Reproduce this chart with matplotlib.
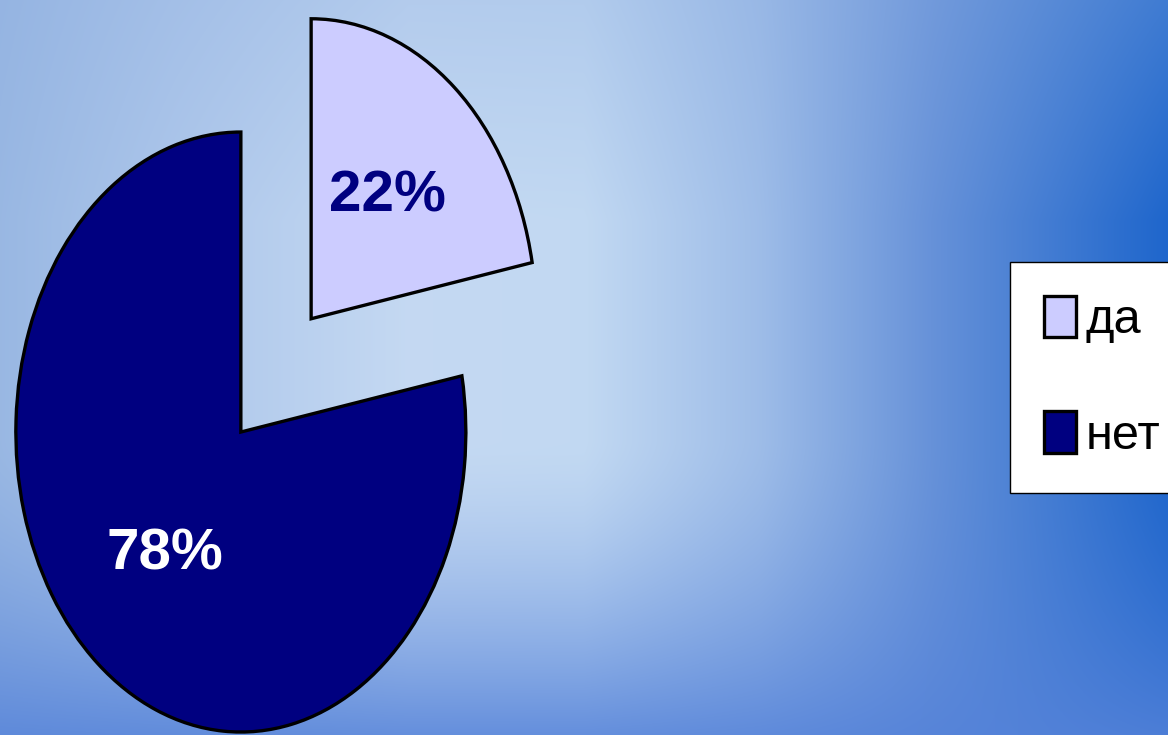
import matplotlib
matplotlib.use('Agg')
import matplotlib.pyplot as plt
import numpy as np

# data
labels = ['да', 'нет']
shares = [22, 78]
colors = ['#ccccff', '#000080']
explode = [0.245, 0.245]

W, H = 1168, 735
font = 'Liberation Sans'

fig = plt.figure(figsize=(W / 100, H / 100), dpi=100)

# blue gradient background
u = np.linspace(0, 1, W)[None, :].repeat(H, axis=0)
v = np.linspace(0, 1, H)[:, None].repeat(W, axis=1)
stops_u = [0.0, 0.15, 0.35, 0.50, 0.65, 0.80, 1.0]
stops_c = np.array([
    [0.60, 0.72, 0.89],
    [0.68, 0.78, 0.92],
    [0.77, 0.85, 0.95],
    [0.76, 0.85, 0.95],
    [0.62, 0.74, 0.91],
    [0.40, 0.57, 0.85],
    [0.12, 0.40, 0.80],
])
img = np.stack([np.interp(u, stops_u, stops_c[:, k]) for k in range(3)], axis=-1)
w_bot = (np.clip((v - 0.6) / 0.4, 0, 1) ** 1.5 * 0.85)[..., None]
img = img * (1 - w_bot) + np.array([0.33, 0.51, 0.85]) * w_bot
w_top = (np.clip(1 - v / 0.3, 0, 1) * 0.3)[..., None]
img = img * (1 - w_top) + np.array([0.55, 0.68, 0.88]) * w_top

bg = fig.add_axes([0, 0, 1, 1])
bg.imshow(img, aspect='auto', extent=(0, 1, 0, 1), interpolation='bilinear')
bg.axis('off')

ax = fig.add_axes([0, 0, 1, 1])
ax.patch.set_alpha(0)
wedges, texts, autotexts = ax.pie(
    shares, explode=explode, colors=colors, startangle=90, counterclock=False,
    autopct='%1.0f%%', pctdistance=0.53,
    wedgeprops=dict(edgecolor='black', linewidth=2.4))
ax.set_aspect('auto')
ax.set_xlim(-276 / 225, (W - 276) / 225)
ax.set_ylim((375.4 - H) / 300, 375.4 / 300)
ax.axis('off')

for t, c in zip(autotexts, ['#000080', 'white']):
    t.set_color(c)
    t.set_fontsize(42)
    t.set_fontweight('bold')
    t.set_family(font)

leg = ax.legend(wedges, labels, loc='upper left',
                bbox_to_anchor=(1010 / W, 1 - 262 / H), bbox_transform=fig.transFigure,
                borderaxespad=0, fancybox=False, framealpha=1, edgecolor='black',
                prop=dict(family=font, size=35),
                handlelength=0.66, handleheight=0.93, handletextpad=0.2,
                labelspacing=1.4, borderpad=0.7)
leg.get_frame().set_linewidth(1.0)

fig.savefig('out.png', dpi=100)
